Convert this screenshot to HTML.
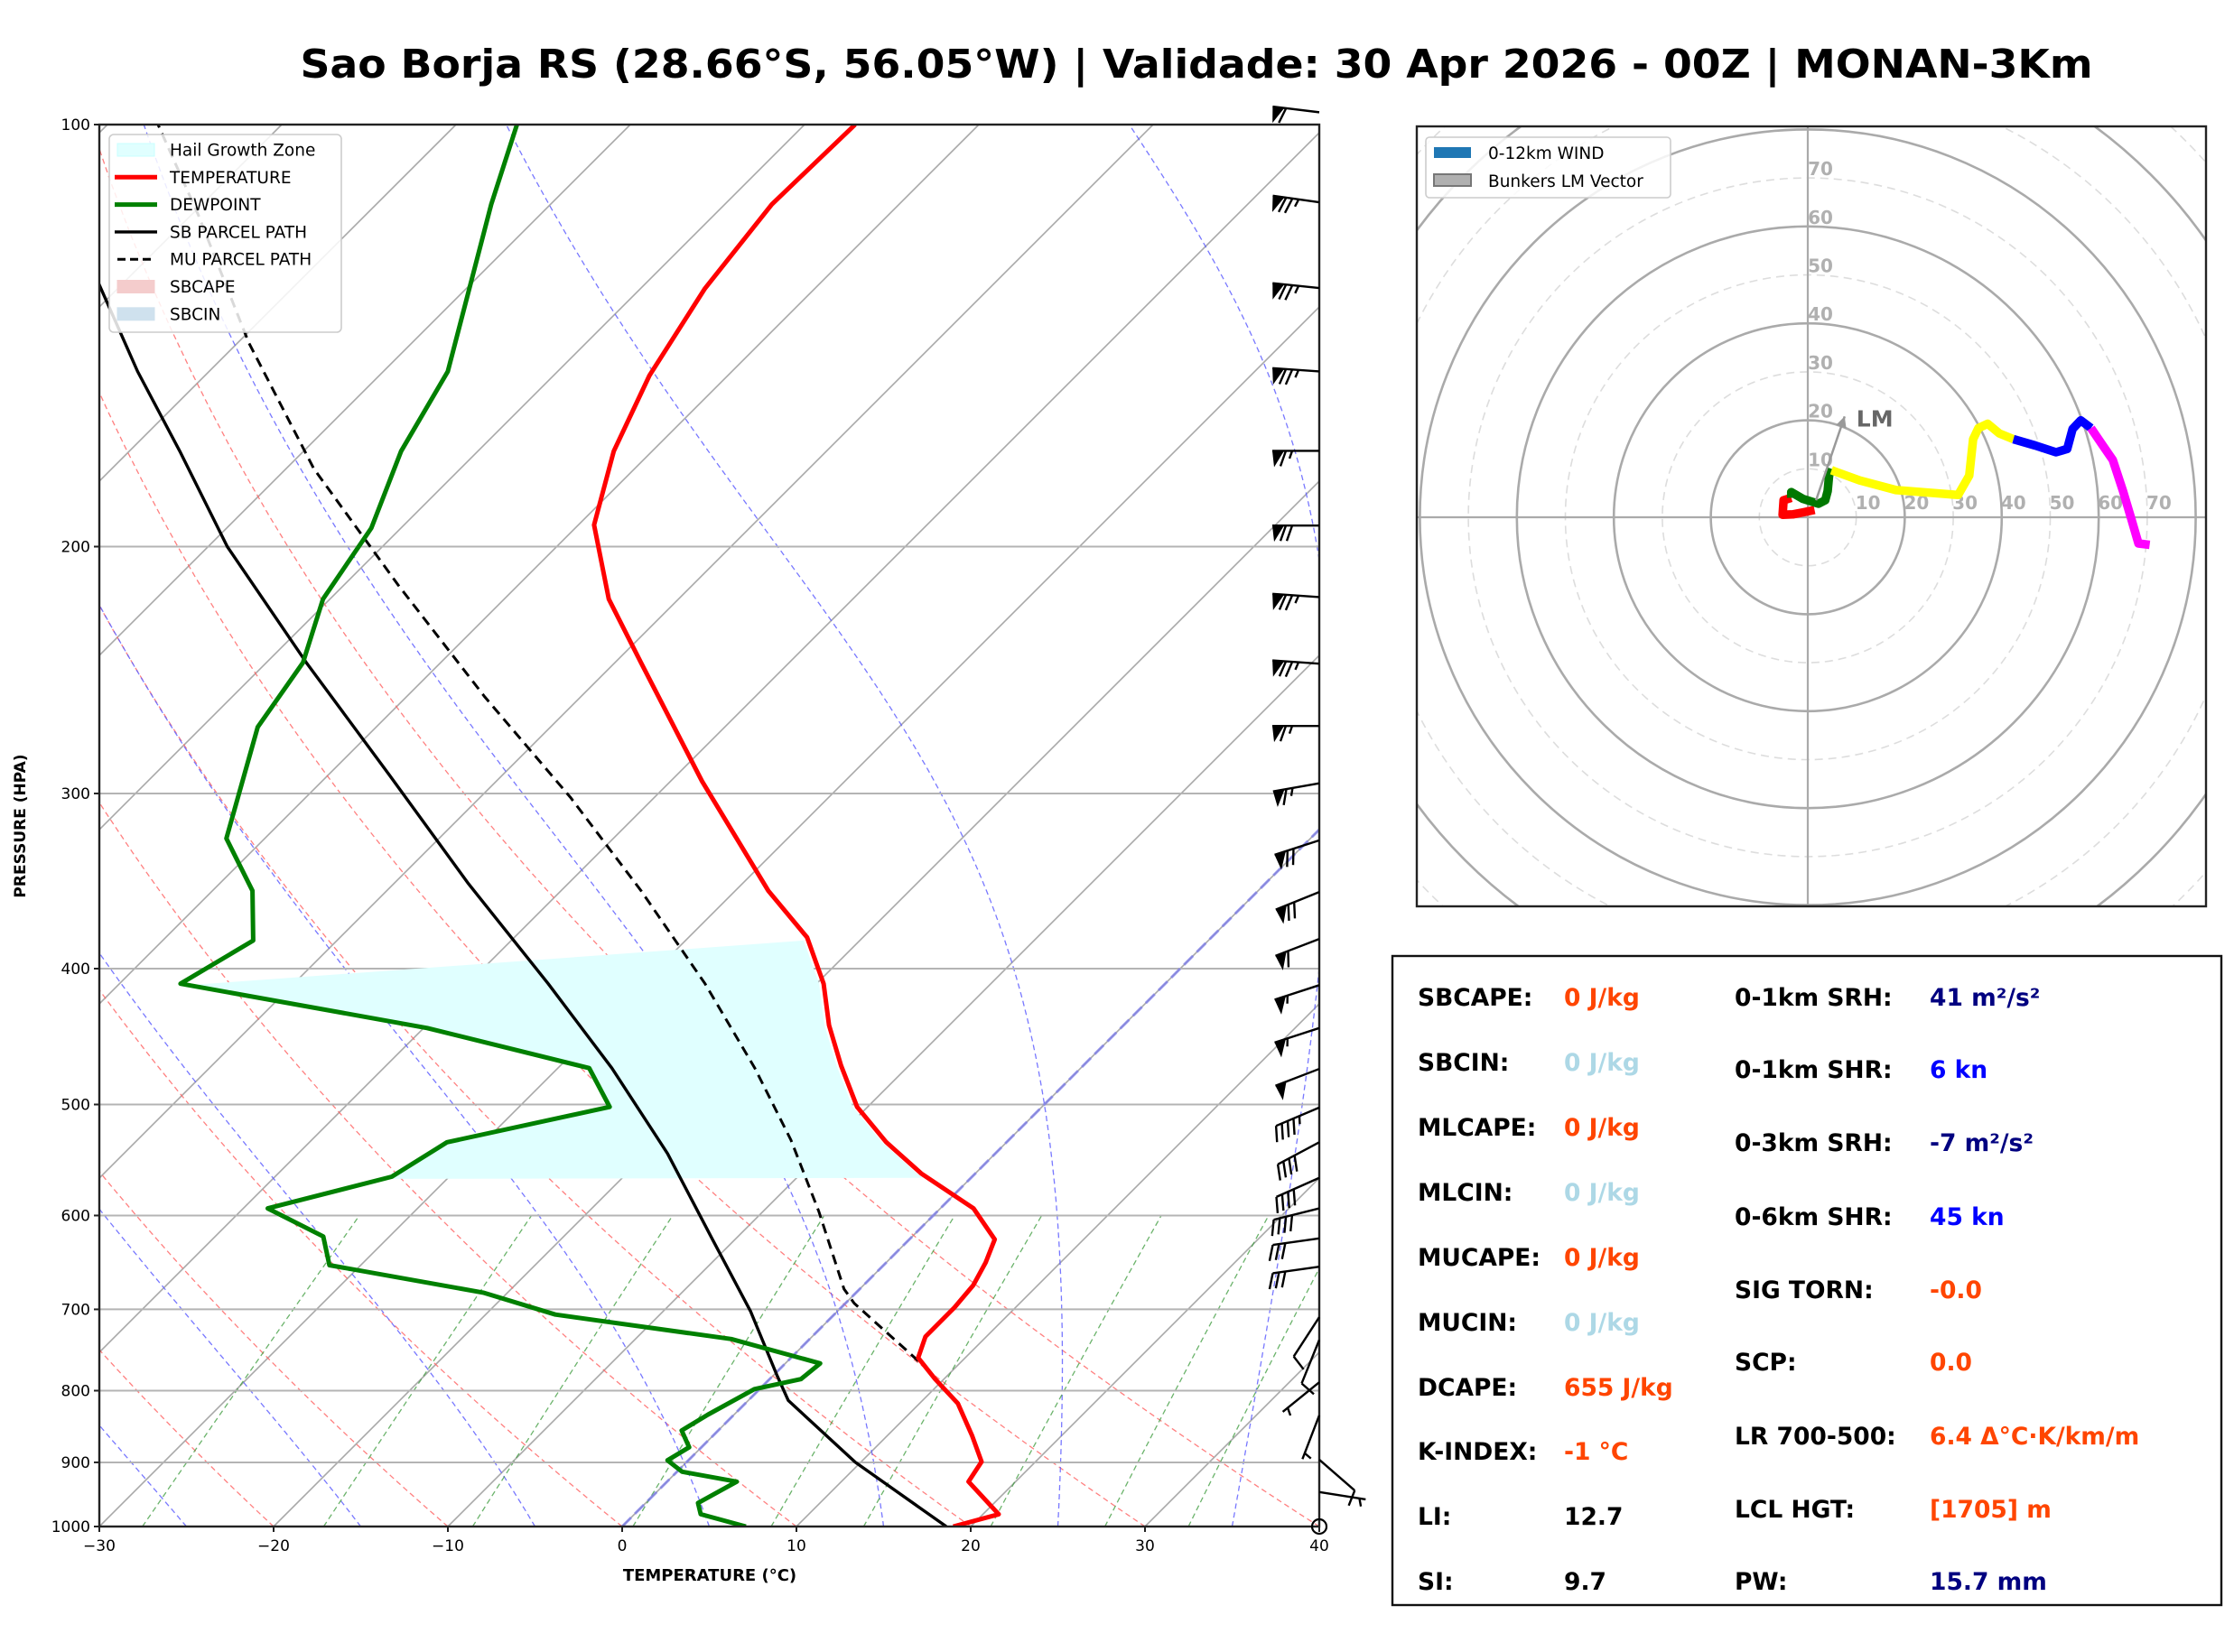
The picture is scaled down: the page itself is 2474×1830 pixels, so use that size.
<!DOCTYPE html>
<html><head><meta charset="utf-8">
<style>
html,body{margin:0;padding:0;background:#fff;}
svg{display:block;font-family:"DejaVu Sans","Liberation Sans",sans-serif;}
</style></head>
<body>
<svg id="root" width="2474" height="1830" viewBox="0 0 2474 1830" xmlns="http://www.w3.org/2000/svg">
<rect x="0" y="0" width="2474" height="1830" fill="#fff"/>
<text x="1325" y="86" text-anchor="middle" font-size="44" font-weight="bold" textLength="1985" lengthAdjust="spacingAndGlyphs">Sao Borja RS (28.66°S, 56.05°W) | Validade: 30 Apr 2026 - 00Z | MONAN-3Km</text>
<defs><clipPath id="axclip"><rect x="110" y="138" width="1351" height="1553"/></clipPath>
<clipPath id="hodoclip"><rect x="1569" y="140" width="874" height="864"/></clipPath></defs>
<g id="skew" clip-path="url(#axclip)"></g>
<g id="skewtop"></g>
<g id="hodo"></g>
<g id="stats"></g>
</svg>
<script>
// ---------- data ----------
const tempP = [1000,980,929,899,862,817,785,758,732,698,673,648,624,593,560,532,502,469,439,410,380,352,294,242,218,193,171,151,131,114,100];
const tempC = [19.0,20.9,17.3,16.9,14.9,12.2,9.5,7.3,6.5,6.5,6.3,5.7,4.9,1.9,-3.1,-6.9,-10.6,-13.9,-16.9,-19.6,-23.2,-28.1,-38.2,-48.5,-54,-59.1,-62.2,-64.5,-66.3,-67.3,-67.1];
const dewP = [1000,980,962,929,914,897,878,854,832,798,785,765,735,706,681,651,621,593,563,532,502,471,441,410,382,352,323,269,242,218,194,171,150,114,100];
const dewC = [7.1,3.8,3.0,4.0,0.3,-1.2,-0.7,-2.1,-1.5,-0.3,1.8,2.0,-4.5,-16.0,-21.4,-31.8,-33.8,-38.6,-33.3,-32.1,-24.8,-28.2,-39.8,-56.5,-54.8,-57.7,-62.2,-66.8,-67.9,-70.4,-71.7,-74.4,-76.3,-83.4,-86.5];
const sbP = [1000,900,813,780,702,624,542,471,410,348,291,242,200,171,150,129];
const sbC = [18.6,9.7,2.3,0.2,-5.0,-11.3,-18.8,-26.9,-35.4,-45.7,-56.5,-67.7,-78.9,-87.1,-94.1,-101.7];
const muP = [762,693,677,596,530,471,410,352,302,256,213,176,143,116,100];
const muC = [7.5,0.5,-0.9,-6.8,-12.5,-18.7,-26.4,-35.4,-44.8,-55.5,-66.9,-78.4,-89.4,-99.6,-107.1];
const hailLevels = [410,382,565];
const xTicks = [-30,-20,-10,0,10,20,30,40];
const yTicks = [100,200,300,400,500,600,700,800,900,1000];
const barbP = [98,113.6,130.8,150,170.9,193.2,217.3,242.4,268.5,295,324,352.7,381,411,441,471.6,502.5,532,564,593,623,652.6,709,736,789,833,896,945];
const barbSpd = [60,75,75,75,65,70,75,75,65,65,70,70,60,55,55,50,45,40,40,40,30,30,10,10,5,5,10,5];
const barbDir = [277,278,276,274,270,270,274,274,270,260,252,248,249,252,252,249,247,242,246,256,262,262,213,202,231,201,131,99];
const hodoRed = [[1.4,1.5],[-1,1],[-3.1,0.6],[-5.2,0.5],[-5,3.5],[-3.4,4.0]];
const hodoGreen = [[-3.4,4.0],[-3.4,5.2],[-1,3.8],[2.2,2.8],[3.6,3.5],[4.1,5.4],[4.4,8.6],[4.9,10]];
const hodoYellow = [[4.9,9.7],[10.7,7.6],[18.2,5.6],[31,4.6],[33.3,8.6],[34.1,16.1],[35.2,18.4],[37.1,19.3],[39.5,17.3],[42.4,16.1]];
const hodoBlue = [[42.4,16.1],[46.9,14.8],[51.2,13.4],[53.5,14.1],[54.6,18.2],[56.3,20],[58.4,18.4]];
const hodoMagenta = [[58.4,18.4],[60.7,15],[62.9,11.8],[65,5.4],[66.6,0.1],[68.2,-5.4],[70.5,-5.7]];
const lmVec = [[1.7,3.5],[7.6,20.8]];
const ringVals = [10,20,30,40,50,60,70];

// ---------- helpers ----------
const NS="http://www.w3.org/2000/svg";
function mk(tag, attrs, parent){const e=document.createElementNS(NS,tag);for(const k in attrs)e.setAttribute(k,attrs[k]);if(parent)parent.appendChild(e);return e;}
const AX={l:110,r:1461,t:138,b:1691};
function yP(p){return AX.b-(AX.b-AX.t)*Math.log10(1000/p);}
function xT(T,p){return AX.l+(T+30)*19.3+(AX.b-yP(p));}
function pathFrom(ps,ts){return ps.map((p,i)=>(i?'L':'M')+xT(ts[i],p).toFixed(1)+','+yP(p).toFixed(1)).join(' ');}
const skew=document.getElementById('skew');
const ovl=document.getElementById('skewtop');

// isotherms
for(let T=-130;T<=40;T+=10){
  const l=mk('line',{x1:xT(T,1000),y1:yP(1000),x2:xT(T,100),y2:yP(100),stroke:'#a8a8a8','stroke-width':1.6},skew);
  
  
}
// dry adiabats
for(let th=243.15;th<=313.2;th+=10){
  const ps=[],ts=[];
  for(let p=1000;p>=100;p-=10){ps.push(p);ts.push(th*Math.pow(p/1000,0.2857)-273.15);}
  const e=mk('path',{d:pathFrom(ps,ts),fill:'none',stroke:'#ff6060','stroke-width':1.3,'stroke-dasharray':'6,4','stroke-opacity':0.8},skew);
  
  
}
// moist adiabats
function esat(Tk){const t=Tk-273.15;return 6.112*Math.exp(17.67*t/(t+243.5));}
for(const t0 of [-25,-15,-5,5,15,25,35]){
  let T=t0+273.15;const ps=[],ts=[];
  for(let p=1000;p>=100;p-=2){
    ps.push(p);ts.push(T-273.15);
    const es=esat(T),rs=0.622*es/(p-es);
    const d=(287.04*T+2.501e6*rs)/(p*(1005.7+2.501e6*2.501e6*rs*0.622/(287.04*T*T)));
    T-=d*2;
  }
  const e=mk('path',{d:pathFrom(ps,ts),fill:'none',stroke:'#6060ff','stroke-width':1.3,'stroke-dasharray':'6,4','stroke-opacity':0.85},skew);
  
  
}
// mixing ratio lines
for(const w of [0.0004,0.001,0.002,0.004,0.007,0.01,0.016,0.024,0.032]){
  const ps=[],ts=[];
  for(let p=1000;p>=600;p-=20){const e=w*p/(0.622+w);const l=Math.log(e/6.112);ps.push(p);ts.push(243.5*l/(17.67-l));}
  const e=mk('path',{d:pathFrom(ps,ts),fill:'none',stroke:'#3a9a3a','stroke-width':1.3,'stroke-dasharray':'6,4','stroke-opacity':0.75},skew);
  
  
}
// pressure grid
for(const p of yTicks){
  const g=mk('line',{x1:AX.l,x2:AX.r,y1:yP(p),y2:yP(p),stroke:'#b4b4b4','stroke-width':2},skew);
  
  
}
// hail growth zone (between dewpoint and temperature)
function interpAt(P,C,p){for(let i=0;i<P.length-1;i++){if(p<=P[i]&&p>=P[i+1]){const f=Math.log(P[i]/p)/Math.log(P[i]/P[i+1]);return C[i]+f*(C[i+1]-C[i]);}}return C[C.length-1];}
{
  const pts=[];
  for(let p=hailLevels[1];p<=hailLevels[2];p+=2){pts.push([xT(interpAt(tempP,tempC,p),p)-5,yP(p)]);}
  for(let p=hailLevels[2];p>=hailLevels[0];p-=2){pts.push([xT(interpAt(dewP,dewC,p),p),yP(p)]);}
  const d=pts.map((q,i)=>(i?'L':'M')+q[0].toFixed(1)+','+q[1].toFixed(1)).join(' ')+' Z';
  const h=mk('path',{d:d,fill:'#e0ffff',stroke:'none'},skew);
  
  
}
// 0C isotherm highlight
{const z=mk('line',{x1:xT(0,1000),y1:yP(1000),x2:xT(0,100),y2:yP(100),stroke:'#7777ee','stroke-width':3,'stroke-dasharray':'14,6','stroke-opacity':0.7},skew);

}
// profiles
{const e=mk('path',{d:pathFrom(sbP,sbC),fill:'none',stroke:'#000','stroke-width':3.4,'stroke-linejoin':'round'},skew);

}
{const e=mk('path',{d:pathFrom(muP,muC),fill:'none',stroke:'#000','stroke-width':3,'stroke-dasharray':'11,7'},skew);

}
{const e=mk('path',{d:pathFrom(tempP,tempC),fill:'none',stroke:'#ff0000','stroke-width':5,'stroke-linejoin':'round'},skew);

}
{const e=mk('path',{d:pathFrom(dewP,dewC),fill:'none',stroke:'#008000','stroke-width':5,'stroke-linejoin':'round'},skew);

}

// axes frame & ticks
{const f=mk('rect',{x:AX.l,y:AX.t,width:AX.r-AX.l,height:AX.b-AX.t,fill:'none',stroke:'#222','stroke-width':2.4},ovl);

}
for(const p of yTicks){
  mk('line',{x1:AX.l-6,x2:AX.l,y1:yP(p),y2:yP(p),stroke:'#222','stroke-width':2},ovl);
  const t=mk('text',{x:AX.l-10,y:yP(p)+6,'text-anchor':'end','font-size':17},ovl);t.textContent=p;
  
  
}
for(const T of xTicks){
  const x=AX.l+(T+30)*19.3;
  mk('line',{x1:x,x2:x,y1:AX.b,y2:AX.b+6,stroke:'#222','stroke-width':2},ovl);
  const t=mk('text',{x:x,y:AX.b+27,'text-anchor':'middle','font-size':17},ovl);t.textContent=(T<0?'\u2212':'')+Math.abs(T);
  
  
}
{const t=mk('text',{x:786,y:1751,'text-anchor':'middle','font-size':18,'font-weight':'bold'},ovl);t.textContent='TEMPERATURE (°C)';

}
{const t=mk('text',{x:0,y:0,'text-anchor':'middle','font-size':17,'font-weight':'bold',transform:'translate(28,915) rotate(-90)'},ovl);t.textContent='PRESSURE (HPA)';

}

// wind barbs
function drawBarb(p,spd,dir){
  const g=mk('g',{},ovl);
  
  
  const x0=AX.r,y0=yP(p);
  if(spd<2.5){mk('circle',{cx:x0,cy:y0,r:8,fill:'none',stroke:'#000','stroke-width':2.2},g);return;}
  const r=dir*Math.PI/180;const sx=Math.sin(r),sy=-Math.cos(r);
  const L=52;const tx=x0+sx*L,ty=y0+sy*L;
  mk('line',{x1:x0,y1:y0,x2:tx,y2:ty,stroke:'#000','stroke-width':2.4},g);
  let qx=-sy,qy=sx; if(qy<0){qx=-qx;qy=-qy;}
  let s=Math.round(spd/5)*5;let pos=0;
  const nf=Math.floor(s/50);s-=nf*50;const nb=Math.floor(s/10);s-=nb*10;const nh=s>=5?1:0;
  for(let i=0;i<nf;i++){
    const ax=tx-sx*pos,ay=ty-sy*pos,bx=tx-sx*(pos+13),by=ty-sy*(pos+13);
    const cx=ax+qx*18-sx*2,cy=ay+qy*18-sy*2;
    mk('path',{d:`M${ax},${ay} L${bx},${by} L${cx},${cy} Z`,fill:'#000'},g);pos+=15;
  }
  for(let i=0;i<nb;i++){
    const ax=tx-sx*pos,ay=ty-sy*pos;
    mk('line',{x1:ax,y1:ay,x2:ax+qx*17+sx*6,y2:ay+qy*17+sy*6,stroke:'#000','stroke-width':2.4},g);pos+=7;
  }
  if(nh){if(nf+nb===0)pos+=7;const ax=tx-sx*pos,ay=ty-sy*pos;
    mk('line',{x1:ax,y1:ay,x2:ax+qx*8.5+sx*3,y2:ay+qy*8.5+sy*3,stroke:'#000','stroke-width':2.4},g);}
}
barbP.forEach((p,i)=>drawBarb(p,barbSpd[i],barbDir[i]));
drawBarb(1000,0,0);

// skewt legend
{
  const g=mk('g',{},ovl);
  
  
  mk('rect',{x:121,y:149,width:257,height:219,rx:5,fill:'#fff','fill-opacity':0.85,stroke:'#ccc','stroke-width':1.6},g);
  const items=[['Hail Growth Zone','patch','#e0ffff','#c8ffff'],['TEMPERATURE','line','#ff0000'],['DEWPOINT','line','#008000'],['SB PARCEL PATH','line','#000'],['MU PARCEL PATH','dash','#000'],['SBCAPE','patch','#f4cccc','#f4cccc'],['SBCIN','patch','#cfe1ee','#cfe1ee']];
  items.forEach((it,i)=>{
    const y=166+i*30.3;
    if(it[1]==='patch')mk('rect',{x:130,y:y-7,width:41,height:14,fill:it[2],stroke:it[3],'stroke-width':1},g);
    else if(it[1]==='line')mk('line',{x1:127,x2:174,y1:y,y2:y,stroke:it[2],'stroke-width':i===3?3.4:5},g);
    else mk('line',{x1:130,x2:172,y1:y,y2:y,stroke:'#000','stroke-width':3,'stroke-dasharray':'9,5'},g);
    const t=mk('text',{x:188,y:y+6.5,'font-size':18.5},g);t.textContent=it[0];
    
    
  });
}

// ---------- hodograph ----------
const hodo=document.getElementById('hodo');
const HB={l:1569,t:140,w:874,h:864};
const HC={x:2002,y:573,s:5.37};
function hx(u){return HC.x+u*HC.s;} function hy(v){return HC.y-v*HC.s;}
{
  const cg=mk('g',{'clip-path':'url(#hodoclip)'},hodo);
  for(let r=10;r<=110;r+=10){
    const solid=r%20===0;
    mk('circle',{cx:HC.x,cy:HC.y,r:r*HC.s,fill:'none',stroke:solid?'#aaaaaa':'#dddddd','stroke-width':solid?2.6:1.6,'stroke-dasharray':solid?'none':'9,6'},cg);
  }
  mk('line',{x1:HB.l,x2:HB.l+HB.w,y1:HC.y,y2:HC.y,stroke:'#aaa','stroke-width':2.2},cg);
  mk('line',{x1:HC.x,x2:HC.x,y1:HB.t,y2:HB.t+HB.h,stroke:'#aaa','stroke-width':2.2},cg);
  for(const r of ringVals){
    const a=mk('text',{x:hx(r)+13,y:HC.y-9,'text-anchor':'middle','font-size':20,'font-weight':'bold',fill:'#b0b0b0'},cg);a.textContent=r;
    
    
    const b=mk('text',{x:HC.x+14,y:hy(r)-3,'text-anchor':'middle','font-size':20,'font-weight':'bold',fill:'#b0b0b0'},cg);b.textContent=r;
    
    
  }
  const segs=[[hodoRed,'#ff0000','hodo-0-1km'],[hodoGreen,'#007800','hodo-1-3km'],[hodoYellow,'#ffff00','hodo-3-6km'],[hodoBlue,'#0000ff','hodo-6-9km'],[hodoMagenta,'#ff00ff','hodo-9-12km']];
  for(const sg of segs){
    const e=mk('path',{d:sg[0].map((q,i)=>(i?'L':'M')+hx(q[0]).toFixed(1)+','+hy(q[1]).toFixed(1)).join(' '),fill:'none',stroke:sg[1],'stroke-width':9.5,'stroke-linejoin':'round'},cg);
    
    
  }
  const x1=hx(lmVec[0][0]),y1=hy(lmVec[0][1]),x2=hx(lmVec[1][0]),y2=hy(lmVec[1][1]);
  const a=mk('line',{x1:x1,y1:y1,x2:x2,y2:y2,stroke:'#999','stroke-width':2.5},cg);
  
  
  const dx=x2-x1,dy=y2-y1,L=Math.hypot(dx,dy),ux=dx/L,uy=dy/L;
  mk('path',{d:`M${x2},${y2} L${x2-ux*12+uy*6},${y2-uy*12-ux*6} L${x2-ux*12-uy*6},${y2-uy*12+ux*6} Z`,fill:'#999'},cg);
  const t=mk('text',{x:x2+13,y:y2+11,'font-size':25,'font-weight':'bold',fill:'#666'},cg);t.textContent='LM';
  
  
  mk('rect',{x:HB.l,y:HB.t,width:HB.w,height:HB.h,fill:'none',stroke:'#222','stroke-width':2.4},hodo);
  const lg=mk('g',{},hodo);
  
  
  mk('rect',{x:1579,y:152,width:271,height:67,rx:4,fill:'#fff','fill-opacity':0.85,stroke:'#ccc','stroke-width':1.6},lg);
  mk('rect',{x:1588,y:163,width:41,height:12,fill:'#1f77b4'},lg);
  mk('rect',{x:1588,y:193,width:41,height:13,fill:'#b0b0b0',stroke:'#777','stroke-width':2},lg);
  const l1=mk('text',{x:1648,y:176,'font-size':18.5},lg);l1.textContent='0-12km WIND';
  const l2=mk('text',{x:1648,y:207,'font-size':18.5},lg);l2.textContent='Bunkers LM Vector';
}

// ---------- stats ----------
const st=document.getElementById('stats');
mk('rect',{x:1542,y:1059,width:918,height:719,fill:'#fff',stroke:'#111','stroke-width':2.4},st);
const leftRows=[['SBCAPE:','0 J/kg','#ff4500'],['SBCIN:','0 J/kg','#add8e6'],['MLCAPE:','0 J/kg','#ff4500'],['MLCIN:','0 J/kg','#add8e6'],['MUCAPE:','0 J/kg','#ff4500'],['MUCIN:','0 J/kg','#add8e6'],['DCAPE:','655 J/kg','#ff4500'],['K-INDEX:','-1 °C','#ff4500'],['LI:','12.7','#000'],['SI:','9.7','#000']];
const leftY=[1104,1176,1248,1320,1392,1464,1536,1607,1679,1751];
const rightRows=[['0-1km SRH:','41 m²/s²','#000080'],['0-1km SHR:','6 kn','#0000ff'],['0-3km SRH:','-7 m²/s²','#000080'],['0-6km SHR:','45 kn','#0000ff'],['SIG TORN:','-0.0','#ff4500'],['SCP:','0.0','#ff4500'],['LR 700-500:','6.4 Δ°C·K/km/m','#ff4500'],['LCL HGT:','[1705] m','#ff4500'],['PW:','15.7 mm','#000080']];
const rightY=[1104,1184,1265,1347,1428,1508,1590,1671,1751];
leftRows.forEach((r,i)=>{
  const a=mk('text',{x:1570,y:leftY[i]+10,'font-size':26.5,'font-weight':'bold',fill:'#000'},st);a.textContent=r[0];
  
  
  const b=mk('text',{x:1732,y:leftY[i]+10,'font-size':26.5,'font-weight':'bold',fill:r[2]},st);b.textContent=r[1];
  
  
});
rightRows.forEach((r,i)=>{
  const a=mk('text',{x:1921,y:rightY[i]+10,'font-size':26.5,'font-weight':'bold',fill:'#000'},st);a.textContent=r[0];
  
  
  const b=mk('text',{x:2137,y:rightY[i]+10,'font-size':26.5,'font-weight':'bold',fill:r[2]},st);b.textContent=r[1];
  
  
});
</script>
</body></html>
